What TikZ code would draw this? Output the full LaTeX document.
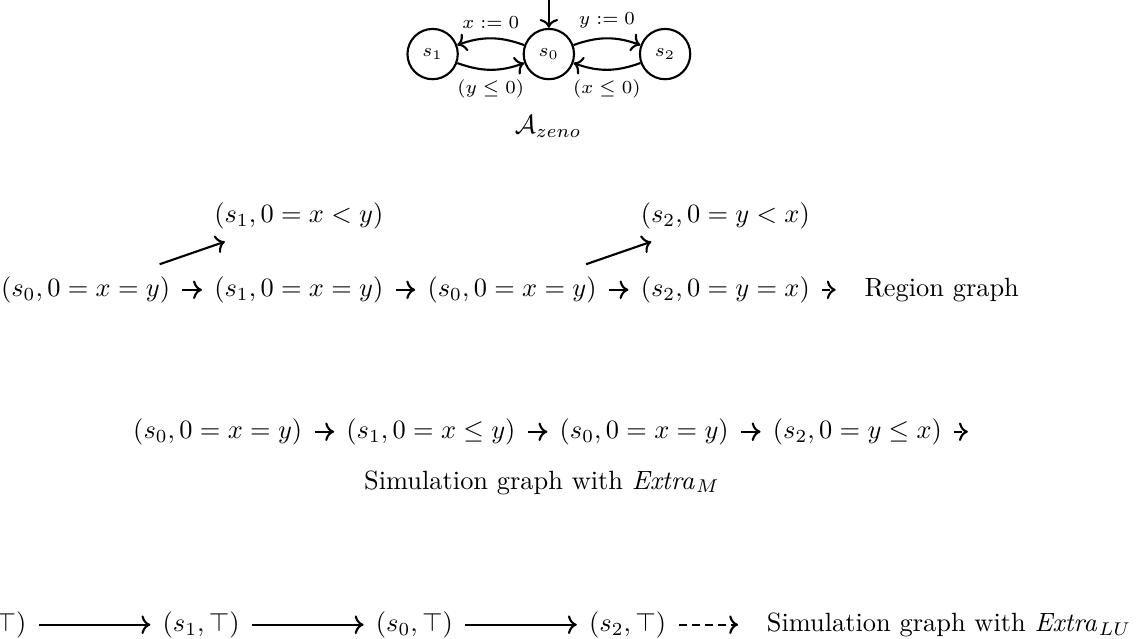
\documentclass[tikz,border=0pt]{standalone}
\usepackage{tikz}
\usetikzlibrary{positioning, arrows.meta, calc}
\usepackage{amsmath}

\begin{document}
\begin{tikzpicture}[
    state/.style={
        circle, draw, thick, minimum size=0.67cm, inner sep=0pt,
        font=\scriptsize
    },
    elabel/.style={font=\scriptsize},
    conf/.style={inner sep=4.5pt},
    arr/.style={-{To}, thick},
    darr/.style={-{To}, thick, densely dashed},
]
\useasboundingbox (0,0) rectangle (15.21,-8.51);

% Automaton A_zeno (top)
\node[state] (s0) at (7.31,-0.72) {$s_0$};
\node[state, left=0.85cm of s0] (s1) {$s_1$};
\node[state, right=0.85cm of s0] (s2) {$s_2$};
\coordinate[above=0.37cm of s0.north] (init);
\node (azeno) at (7.30,-1.69) {$\mathcal{A}_{zeno}$};

\draw[arr] (init) -- (s0);
\draw[arr] (s0) to[bend right=20] node[above, elabel] {$x := 0$} (s1);
\draw[arr] (s1) to[bend right=20] node[below, elabel] {$(y \leq 0)$} (s0);
\draw[arr] (s0) to[bend left=20] node[above, elabel] {$y := 0$} (s2);
\draw[arr] (s2) to[bend left=20] node[below, elabel] {$(x \leq 0)$} (s0);

% Region graph (first row)
\node[conf] (r1a) at (1.14,-3.86) {$(s_0, 0 = x = y)$};
\node[conf] (r1b) at ($(r1a)+(2.84,0)$) {$(s_1, 0 = x = y)$};
\node[conf] (r1c) at ($(r1b)+(2.84,0)$) {$(s_0, 0 = x = y)$};
\node[conf] (r1d) at ($(r1c)+(2.84,0)$) {$(s_2, 0 = y = x)$};
\node[conf, above=0.3cm of r1b] (r1up) {$(s_1, 0 = x < y)$};
\node[conf, above=0.3cm of r1d] (r1dup) {$(s_2, 0 = y < x)$};
\coordinate (r1end) at ($(r1d)+(1.47,0)$);
\node[right=0.26cm of r1end] (r1lbl) {Region graph};

\draw[arr] (r1a) -- (r1b);
\draw[arr] (r1b) -- (r1c);
\draw[arr] (r1c) -- (r1d);
\draw[arr] (r1a) -- (r1up);
\draw[arr] (r1c) -- (r1dup);
\draw[darr] (r1d) -- (r1end);

% Simulation graph with Extra_M (second row)
\node[conf] (r3a) at (2.90,-5.75) {$(s_0, 0 = x = y)$};
\node[conf] (r3b) at ($(r3a)+(2.84,0)$) {$(s_1, 0 = x \leq y)$};
\node[conf] (r3c) at ($(r3b)+(2.84,0)$) {$(s_0, 0 = x = y)$};
\node[conf] (r3d) at ($(r3c)+(2.84,0)$) {$(s_2, 0 = y \leq x)$};
\coordinate (r3end) at ($(r3d)+(1.47,0)$);
\node[below=0.05cm of $(r3b.south)!0.52!(r3c.south)$] (r3lbl) {Simulation graph with $\mathit{Extra}_M$};

\draw[arr] (r3a) -- (r3b);
\draw[arr] (r3b) -- (r3c);
\draw[arr] (r3c) -- (r3d);
\draw[darr] (r3d) -- (r3end);

% Simulation graph with Extra_LU (last row, cut on the left)
\node[conf] (r4a) at (-0.16,-8.32) {$(s_0, \top)$};
\node[conf] (r4b) at ($(r4a)+(2.84,0)$) {$(s_1, \top)$};
\node[conf] (r4c) at ($(r4b)+(2.84,0)$) {$(s_0, \top)$};
\node[conf] (r4d) at ($(r4c)+(2.84,0)$) {$(s_2, \top)$};
\coordinate (r4end) at ($(r4d)+(1.47,0)$);
\node[right=0.26cm of r4end] (r4lbl) {Simulation graph with $\mathit{Extra}_{LU}$};

\draw[arr] (r4a) -- (r4b);
\draw[arr] (r4b) -- (r4c);
\draw[arr] (r4c) -- (r4d);
\draw[darr] (r4d) -- (r4end);

\end{tikzpicture}
\end{document}
